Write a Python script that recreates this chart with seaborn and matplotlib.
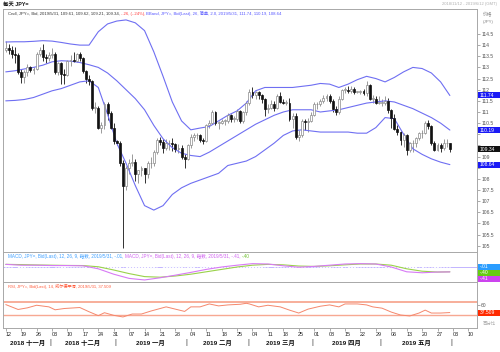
import matplotlib
matplotlib.use('Agg')
import matplotlib.pyplot as plt
import matplotlib.transforms as mtrans
from matplotlib.patches import Rectangle
import numpy as np
import pandas as pd
import seaborn as sns

sns.set_theme(style='white')
plt.rcParams['font.family'] = ['Liberation Sans', 'Noto Sans CJK SC', 'DejaVu Sans']
plt.rcParams['axes.unicode_minus'] = False

# ---------------- data ----------------
opens = [
    113.80, 113.85, 113.80, 113.60, 113.55, 112.80, 112.55, 112.80, 113.00, 112.90,
    112.95, 113.60, 113.80, 113.45, 113.40, 113.55, 113.60, 112.80, 113.20, 112.70,
    112.65, 113.30, 113.35, 113.30, 113.60, 113.40, 112.85, 112.50, 112.40, 111.20,
    111.20, 110.30, 110.40, 111.35, 110.95, 110.30, 109.70, 109.60, 108.70, 107.70,
    108.50, 108.70, 108.75, 108.20, 108.40, 108.50, 108.20, 108.70, 108.70, 109.20,
    109.75, 109.65, 109.40, 109.60, 109.60, 109.55, 109.35, 109.40, 109.00, 108.90,
    109.50, 109.90, 109.95, 109.95, 109.75, 109.70, 110.40, 110.50, 111.00, 110.50,
    110.50, 110.60, 110.60, 110.85, 110.70, 110.70, 111.05, 110.60, 111.00, 111.40,
    111.90, 111.75, 111.90, 111.75, 111.60, 111.15, 111.20, 111.35, 111.20, 111.70,
    111.45, 111.40, 111.40, 110.70, 110.80, 109.90, 109.95, 110.60, 110.55, 110.60,
    110.85, 111.35, 111.35, 111.50, 111.65, 111.70, 111.50, 111.15, 111.00, 111.60,
    112.00, 112.00, 111.95, 112.05, 111.90, 111.90, 111.95, 111.85, 112.20, 111.60,
    111.60, 111.40, 111.40, 111.40, 111.50, 111.10, 110.75, 110.25, 110.10, 109.75,
    109.95, 109.30, 109.60, 109.60, 109.85, 110.05, 110.05, 110.50, 110.35, 109.60,
    109.30, 109.50, 109.40, 109.60, 109.61]
highs = [
    114.20, 114.05, 113.95, 113.90, 113.65, 112.95, 112.90, 113.15, 113.05, 113.00,
    113.70, 113.90, 114.05, 113.60, 113.70, 113.85, 113.70, 113.25, 113.25, 112.95,
    113.35, 113.55, 113.70, 113.65, 113.70, 113.45, 112.90, 112.65, 112.45, 111.45,
    111.25, 110.55, 111.45, 111.45, 111.05, 110.50, 109.75, 109.70, 108.85, 108.60,
    108.90, 109.10, 108.90, 108.40, 108.60, 108.50, 108.80, 109.00, 109.30, 109.85,
    109.90, 109.80, 109.80, 109.75, 109.85, 109.60, 109.55, 109.50, 109.10, 109.55,
    110.00, 110.05, 110.05, 110.00, 109.85, 110.45, 110.65, 111.10, 111.05, 110.60,
    110.70, 110.70, 110.95, 110.90, 110.80, 111.15, 111.10, 111.05, 111.50, 112.05,
    112.10, 111.95, 111.95, 111.80, 111.65, 111.35, 111.55, 111.50, 111.80, 111.90,
    111.60, 111.55, 111.65, 110.95, 110.95, 110.20, 110.70, 110.70, 110.75, 111.00,
    111.45, 111.45, 111.60, 111.75, 111.80, 111.80, 111.60, 111.25, 111.70, 112.05,
    112.10, 112.15, 112.15, 112.10, 111.95, 112.00, 112.05, 112.40, 112.25, 111.75,
    111.70, 111.70, 111.60, 111.70, 111.65, 111.15, 110.90, 110.40, 110.15, 110.05,
    110.00, 109.65, 109.75, 109.90, 110.10, 110.20, 110.60, 110.65, 110.40, 109.70,
    109.60, 109.60, 109.80, 109.80, 109.62]
lows = [
    113.70, 113.60, 113.40, 113.20, 112.70, 112.30, 112.30, 112.60, 112.80, 112.70,
    112.90, 113.50, 113.30, 113.20, 113.30, 113.40, 112.70, 112.65, 112.25, 112.25,
    112.60, 113.05, 113.25, 113.25, 113.30, 112.75, 112.30, 112.20, 111.10, 110.95,
    110.25, 110.05, 110.25, 110.65, 110.25, 109.55, 109.50, 108.60, 104.90, 107.50,
    108.20, 108.60, 107.90, 107.80, 108.15, 107.80, 108.05, 108.50, 108.60, 109.10,
    109.50, 109.15, 109.30, 109.30, 109.25, 109.20, 109.15, 108.90, 108.50, 108.85,
    109.40, 109.70, 109.80, 109.65, 109.55, 109.65, 110.30, 110.45, 110.40, 110.25,
    110.45, 110.40, 110.50, 110.55, 110.55, 110.60, 110.50, 110.50, 110.85, 111.30,
    111.65, 111.60, 111.60, 111.40, 110.80, 110.95, 111.15, 111.05, 111.15, 111.40,
    111.35, 111.30, 110.60, 110.30, 109.80, 109.70, 109.90, 110.20, 110.10, 110.55,
    110.80, 111.15, 111.25, 111.40, 111.50, 111.40, 111.00, 110.85, 110.90, 111.55,
    111.85, 111.85, 111.85, 111.80, 111.85, 111.80, 111.75, 111.70, 111.55, 111.40,
    111.35, 111.35, 111.25, 111.30, 110.95, 110.30, 110.20, 109.95, 109.50, 109.45,
    109.05, 109.20, 109.20, 109.45, 109.75, 109.85, 110.00, 110.25, 109.50, 109.25,
    109.25, 109.20, 109.30, 109.45, 109.21]
closes = [
    113.85, 113.80, 113.60, 113.55, 112.80, 112.55, 112.80, 113.00, 112.90, 112.95,
    113.60, 113.80, 113.45, 113.40, 113.55, 113.60, 112.80, 113.20, 112.70, 112.65,
    113.30, 113.35, 113.30, 113.60, 113.40, 112.85, 112.50, 112.40, 111.20, 111.20,
    110.30, 110.40, 111.35, 110.95, 110.30, 109.70, 109.60, 108.70, 107.70, 108.50,
    108.70, 108.75, 108.20, 108.40, 108.50, 108.20, 108.70, 108.70, 109.20, 109.75,
    109.65, 109.40, 109.60, 109.60, 109.55, 109.35, 109.40, 109.00, 108.90, 109.50,
    109.90, 109.95, 109.95, 109.75, 109.70, 110.40, 110.50, 111.00, 110.50, 110.50,
    110.60, 110.60, 110.85, 110.70, 110.70, 111.05, 110.60, 111.00, 111.40, 111.90,
    111.75, 111.90, 111.75, 111.60, 111.15, 111.20, 111.35, 111.20, 111.70, 111.45,
    111.40, 111.40, 110.70, 110.80, 109.90, 109.95, 110.60, 110.55, 110.60, 110.85,
    111.35, 111.35, 111.50, 111.65, 111.70, 111.50, 111.15, 111.00, 111.60, 112.00,
    112.00, 111.95, 112.05, 111.90, 111.90, 111.95, 111.85, 112.20, 111.60, 111.60,
    111.40, 111.40, 111.40, 111.50, 111.10, 110.75, 110.25, 110.10, 109.75, 109.95,
    109.30, 109.60, 109.60, 109.85, 110.05, 110.05, 110.50, 110.35, 109.60, 109.30,
    109.50, 109.40, 109.60, 109.60, 109.34]

# Bollinger band (26, simple, 2.0) values
band_dates = ['2018-11-12', '2018-11-15', '2018-11-20', '2018-11-23', '2018-11-28',
              '2018-12-03', '2018-12-06', '2018-12-11', '2018-12-14', '2018-12-19',
              '2018-12-24', '2018-12-27', '2019-01-01', '2019-01-04', '2019-01-09',
              '2019-01-14', '2019-01-17', '2019-01-22', '2019-01-25', '2019-01-30',
              '2019-02-04', '2019-02-07', '2019-02-12', '2019-02-15', '2019-02-20',
              '2019-02-25', '2019-02-28', '2019-03-05', '2019-03-08', '2019-03-13',
              '2019-03-18', '2019-03-21', '2019-03-26', '2019-03-29', '2019-04-03',
              '2019-04-08', '2019-04-11', '2019-04-16', '2019-04-19', '2019-04-24',
              '2019-04-29', '2019-05-02', '2019-05-07', '2019-05-10', '2019-05-15',
              '2019-05-20', '2019-05-23', '2019-05-28', '2019-05-31']
bb_upper = [114.14, 114.15, 114.15, 114.17, 114.20, 114.18, 114.12, 114.05, 114.00, 114.00,
            114.60, 114.95, 115.08, 115.13, 115.00, 114.65, 113.70, 112.60, 111.45, 110.60,
            110.20, 110.28, 110.35, 110.60, 110.85, 111.05, 111.40, 111.95, 112.10, 112.10,
            112.10, 112.10, 112.15, 112.20, 112.28, 112.25, 112.10, 112.25, 112.45, 112.60,
            112.50, 112.35, 112.55, 112.80, 113.00, 112.95, 112.75, 112.35, 111.74]
bb_mid = [112.80, 112.85, 112.93, 113.00, 113.10, 113.25, 113.30, 113.28, 113.22, 113.12,
          113.00, 112.75, 112.40, 112.00, 111.60, 111.10, 110.40, 109.80, 109.40, 109.15,
          109.05, 109.00, 109.20, 109.45, 109.70, 109.95, 110.20, 110.45, 110.65, 110.85,
          111.00, 111.10, 111.10, 111.10, 111.00, 111.05, 111.10, 111.20, 111.30, 111.40,
          111.45, 111.50, 111.45, 111.30, 111.15, 110.95, 110.75, 110.50, 110.19]
bb_lower = [111.50, 111.52, 111.56, 111.65, 111.80, 111.95, 112.05, 112.20, 112.35, 112.40,
            112.10, 110.90, 109.60, 108.70, 107.70, 106.80, 106.60, 106.80, 107.30, 107.60,
            107.80, 107.95, 108.10, 108.25, 108.60, 108.70, 108.80, 109.00, 109.30, 109.60,
            109.95, 110.15, 110.20, 110.15, 110.10, 110.10, 110.10, 110.10, 110.05, 110.05,
            110.30, 110.75, 110.70, 110.00, 109.35, 109.10, 108.90, 108.75, 108.64]

# MACD (12, 26, 9), weekly readings
macd_dates = ['2018-11-12', '2018-11-19', '2018-11-26', '2018-12-03', '2018-12-10',
              '2018-12-17', '2018-12-24', '2018-12-31', '2019-01-07', '2019-01-14',
              '2019-01-21', '2019-01-28', '2019-02-04', '2019-02-11', '2019-02-18',
              '2019-02-25', '2019-03-04', '2019-03-11', '2019-03-18', '2019-03-25',
              '2019-04-01', '2019-04-08', '2019-04-15', '2019-04-22', '2019-04-29',
              '2019-05-06', '2019-05-13', '2019-05-20', '2019-05-27', '2019-05-31']
macd_line = [0.22, 0.15, 0.15, 0.12, 0.12, 0.10, -0.15, -0.60, -0.95, -1.08,
             -0.90, -0.68, -0.45, -0.20, 0.00, 0.15, 0.28, 0.25, 0.10, -0.02,
             0.05, 0.15, 0.25, 0.28, 0.25, 0.00, -0.40, -0.48, -0.42, -0.41]
macd_signal = [0.22, 0.20, 0.17, 0.15, 0.13, 0.12, 0.02, -0.25, -0.55, -0.80,
               -0.85, -0.75, -0.60, -0.40, -0.20, 0.00, 0.15, 0.22, 0.18, 0.08,
               0.05, 0.10, 0.18, 0.25, 0.25, 0.15, -0.15, -0.35, -0.42, -0.40]
macd_hist = [
    0.00, -0.01, -0.02, -0.03, -0.05, -0.06, -0.05, -0.04, -0.03, -0.03,
    -0.01, 0.01, 0.00, -0.01, -0.01, -0.01, -0.04, -0.04, -0.06, -0.06,
    -0.04, -0.02, -0.01, 0.01, 0.00, -0.03, -0.07, -0.10, -0.17, -0.20,
    -0.25, -0.27, -0.22, -0.22, -0.25, -0.30, -0.32, -0.37, -0.42, -0.38,
    -0.34, -0.30, -0.30, -0.26, -0.22, -0.20, -0.16, -0.12, -0.07, 0.00,
    0.03, 0.05, 0.07, 0.08, 0.08, 0.08, 0.07, 0.05, 0.03, 0.06,
    0.10, 0.12, 0.13, 0.12, 0.11, 0.15, 0.18, 0.22, 0.20, 0.19,
    0.18, 0.17, 0.17, 0.15, 0.13, 0.14, 0.11, 0.11, 0.13, 0.16,
    0.15, 0.14, 0.12, 0.09, 0.04, 0.01, -0.01, -0.02, 0.00, -0.01,
    -0.02, -0.03, -0.07, -0.08, -0.13, -0.13, -0.10, -0.08, -0.06, -0.03,
    0.01, 0.03, 0.05, 0.07, 0.08, 0.07, 0.04, 0.02, 0.04, 0.07,
    0.07, 0.07, 0.06, 0.05, 0.04, 0.03, 0.02, 0.04, 0.01, -0.01,
    -0.02, -0.04, -0.05, -0.05, -0.07, -0.11, -0.16, -0.19, -0.23, -0.23,
    -0.25, -0.22, -0.19, -0.15, -0.10, -0.07, -0.02, 0.00, -0.03, -0.06,
    -0.05, -0.04, -0.03, -0.02, -0.01]

# RSI (14, Wilder)
rsi_dates = ['2018-11-12', '2018-11-16', '2018-11-21', '2018-11-26', '2018-11-30',
             '2018-12-04', '2018-12-07', '2018-12-14', '2018-12-19', '2018-12-24',
             '2018-12-26', '2018-12-31', '2019-01-03', '2019-01-08', '2019-01-11',
             '2019-01-16', '2019-01-23', '2019-01-28', '2019-01-31', '2019-02-04',
             '2019-02-07', '2019-02-12', '2019-02-15', '2019-02-20', '2019-02-26',
             '2019-02-28', '2019-03-01', '2019-03-06', '2019-03-11', '2019-03-15',
             '2019-03-20', '2019-03-25', '2019-03-28', '2019-04-03', '2019-04-08',
             '2019-04-11', '2019-04-15', '2019-04-19', '2019-04-24', '2019-04-26',
             '2019-05-01', '2019-05-06', '2019-05-09', '2019-05-14', '2019-05-17',
             '2019-05-21', '2019-05-23', '2019-05-28', '2019-05-31']
rsi_vals = [62, 47, 52, 60, 55, 46, 50, 53, 40, 28,
            37, 29, 24, 33, 33, 42, 55, 48, 41, 55,
            55, 64, 58, 61, 63, 66, 64, 55, 60, 55,
            45, 36, 48, 57, 61, 55, 64, 64, 61, 55,
            51, 39, 30, 27, 36, 45, 36, 36, 37.509]

month_names = ['十一月', '十二月', '一月', '二月', '三月', '四月', '五月']

# ---------------- figure ----------------
W, H = 500, 352
axis_days = pd.bdate_range('2018-11-12', '2019-06-12')
n = len(closes)
pos = {d: i for i, d in enumerate(axis_days)}

fig = plt.figure(figsize=(W / 100, H / 100), dpi=100)
fig.patch.set_facecolor('white')


def px_axes(x0, y0, x1, y1):
    return fig.add_axes([x0 / W, 1 - y1 / H, (x1 - x0) / W, (y1 - y0) / H])


ax = px_axes(3, 9, 477, 252)
axm = px_axes(3, 252, 477, 282)
axr = px_axes(3, 282, 477, 328)
XL = (-0.9, 152.8)
for a in (ax, axm, axr):
    a.set_xlim(*XL)
    a.set_facecolor('white')
    for s in a.spines.values():
        s.set_color('#a8a8a8')
        s.set_linewidth(0.7)
    a.tick_params(axis='x', bottom=False, labelbottom=False)
    a.yaxis.tick_right()
    a.tick_params(axis='y', right=True, left=False, length=2, width=0.5, color='#888888',
                  labelsize=3.6, labelcolor='#555555', pad=1)
    a.grid(False)

# candles
x = np.arange(n)
o = np.array(opens); c = np.array(closes); h = np.array(highs); l = np.array(lows)
up = c >= o
ax.vlines(x[up], l[up], h[up], color='#8a8a8a', lw=0.6, zorder=2)
ax.vlines(x[~up], l[~up], h[~up], color='#111111', lw=0.6, zorder=2)
body = np.maximum(np.abs(c - o), 0.03)
bot = np.minimum(o, c)
ax.bar(x[up], body[up], bottom=bot[up], width=0.62, color='white', edgecolor='#8a8a8a',
       linewidth=0.5, zorder=3)
ax.bar(x[~up], body[~up], bottom=bot[~up], width=0.62, color='#111111', edgecolor='#111111',
       linewidth=0.5, zorder=3)

bx = [pos[pd.Timestamp(d)] for d in band_dates]
for vals in (bb_upper, bb_mid, bb_lower):
    sns.lineplot(x=bx, y=vals, ax=ax, color='#6f6ff2', linewidth=0.8, estimator=None)
ax.set_ylim(104.72, 115.62)
tick_vals = np.arange(105, 114.51, 0.5)
ax.set_yticks(tick_vals)
hidden = (110.0, 109.5, 108.5)   # tucked behind the value boxes
ax.set_yticklabels(['' if v in hidden else '%g' % v for v in tick_vals])
ax.set_xlabel(''); ax.set_ylabel('')

# MACD
mx = [pos[pd.Timestamp(d)] for d in macd_dates]
axm.axhline(0, color='#b8a8ff', lw=0.6, zorder=1)
axm.bar(x, macd_hist, width=0.3, color='#55aaff', zorder=2)
sns.lineplot(x=mx, y=macd_signal, ax=axm, color='#9ad24a', linewidth=0.8, estimator=None)
sns.lineplot(x=mx, y=macd_line, ax=axm, color='#d77af5', linewidth=0.8, estimator=None)
axm.set_ylim(-1.25, 1.25)
axm.set_yticks([])
axm.set_xlabel(''); axm.set_ylabel('')

# RSI
axr.axhline(70, color='#f7a892', lw=1.3, zorder=1)
axr.axhline(30, color='#f7a892', lw=1.0, zorder=1)
rx = [pos[pd.Timestamp(d)] for d in rsi_dates]
sns.lineplot(x=rx, y=rsi_vals, ax=axr, color='#f5876c', linewidth=0.7, estimator=None)
axr.set_ylim(-10, 131.5)
axr.set_yticks([60])
axr.set_yticklabels(['60'])
axr.set_xlabel(''); axr.set_ylabel('')

# x axis labels (weekly Mondays + month row)
mondays = [i for i, d in enumerate(axis_days) if d.weekday() == 0]
axr.set_xticks(mondays)
axr.set_xticklabels([axis_days[i].strftime('%d') for i in mondays])
axr.tick_params(axis='x', bottom=True, labelbottom=True, length=2, width=0.5, color='#888888',
                labelsize=3.9, labelcolor='#222222', pad=1)
shift = mtrans.ScaledTranslation(2.5 / 100, 0, fig.dpi_scale_trans)
for lab in axr.get_xticklabels():
    lab.set_transform(lab.get_transform() + shift)

trx = mtrans.blended_transform_factory(axr.transData, fig.transFigure)
months = pd.Series(range(n), index=axis_days[:n]).groupby(axis_days[:n].to_period('M'))
for k, (per, grp) in enumerate(months):
    ctr = grp.values.mean()
    fig.text(ctr, 1 - 342.5 / H, '%d %s' % (per.year, month_names[k]), transform=trx,
             ha='center', va='center', fontsize=4.6, weight='bold', color='#111111')
    fig.text(grp.values.max() + 0.5, 1 - 342.5 / H, '|', transform=trx, ha='center',
             va='center', fontsize=5, color='#333333')

# ---------------- header texts ----------------
fig.canvas.draw()
rend = fig.canvas.get_renderer()


def seq_text(x_px, y_px, parts, size):
    for s, col in parts:
        t = fig.text(x_px / W, 1 - y_px / H, s, color=col, fontsize=size, ha='left', va='center')
        x_px += t.get_window_extent(renderer=rend).width


fig.text(3 / W, 1 - 3.8 / H, '每天 JPY=', fontsize=3.9, weight='bold', va='center', color='#111111')
fig.text(497 / W, 1 - 4.5 / H, '2018/11/12 - 2019/6/12 (GMT)', fontsize=3.0, ha='right',
         va='center', color='#b0b0b0')
fig.text(488 / W, 1 - 15 / H, '价格', fontsize=3.4, ha='center', va='center', color='#888888')
fig.text(488 / W, 1 - 22 / H, '(JPY)', fontsize=3.2, ha='center', va='center', color='#888888')

seq_text(8, 13.5, [('Cndl, JPY=, Bid, 2019/5/31, 109.61, 109.62, 109.21, 109.34, ', '#333333'),
                   ('-.26, (-.24%), ', '#ff3b3b'),
                   ('BBand, JPY=, Bid(Last), 26, 简单, 2.0, 2019/5/31, 111.74, 110.19, 108.64',
                    '#5555ff')], 3.05)
seq_text(8, 256.5, [('MACD, JPY=, Bid(Last), 12, 26, 9, 指数, 2019/5/31, -.01, ', '#3ea0ff'),
                    ('MACD, JPY=, Bid(Last), 12, 26, 9, 指数, 2019/5/31, -.41, ', '#d060f0'),
                    ('-.40', '#70c030')], 3.3)
seq_text(8, 286, [('RSI, JPY=, Bid(Last), 14, 威尔德平滑, 2019/5/31, 37.509', '#ff5a3a')], 3.0)


def value_box(axis, val, text, fc, tc='white', y_px=None):
    if y_px is None:
        yd = axis.transData.transform((0, val))[1]
    else:
        yd = H - y_px
    fig.add_artist(Rectangle((477.5 / W, (yd - 3.0) / H), 22 / W, 6.0 / H,
                             transform=fig.transFigure, fc=fc, ec='none', zorder=10))
    fig.text(479.5 / W, yd / H, text, fontsize=3.6, color=tc, ha='left', va='center', zorder=11)


value_box(ax, 111.74, '111.74', '#1a1af5')
value_box(ax, 110.19, '110.19', '#1a1af5')
value_box(ax, 109.34, '109.34', '#111111')
value_box(ax, 108.64, '108.64', '#1a1af5')
value_box(axm, -0.01, '-.01', '#2a9dff', y_px=267)
value_box(axm, -0.40, '-.40', '#66cc11', y_px=272.8)
value_box(axm, -0.41, '-.41', '#cc44ee', y_px=278.6)
value_box(axr, 37.509, '37.509', '#ff2a00')
fig.text(489 / W, 1 - 324 / H, '百分比', fontsize=3.2, ha='center', va='center', color='#aaaaaa')

fig.savefig('out.png', dpi=100, facecolor='white')
